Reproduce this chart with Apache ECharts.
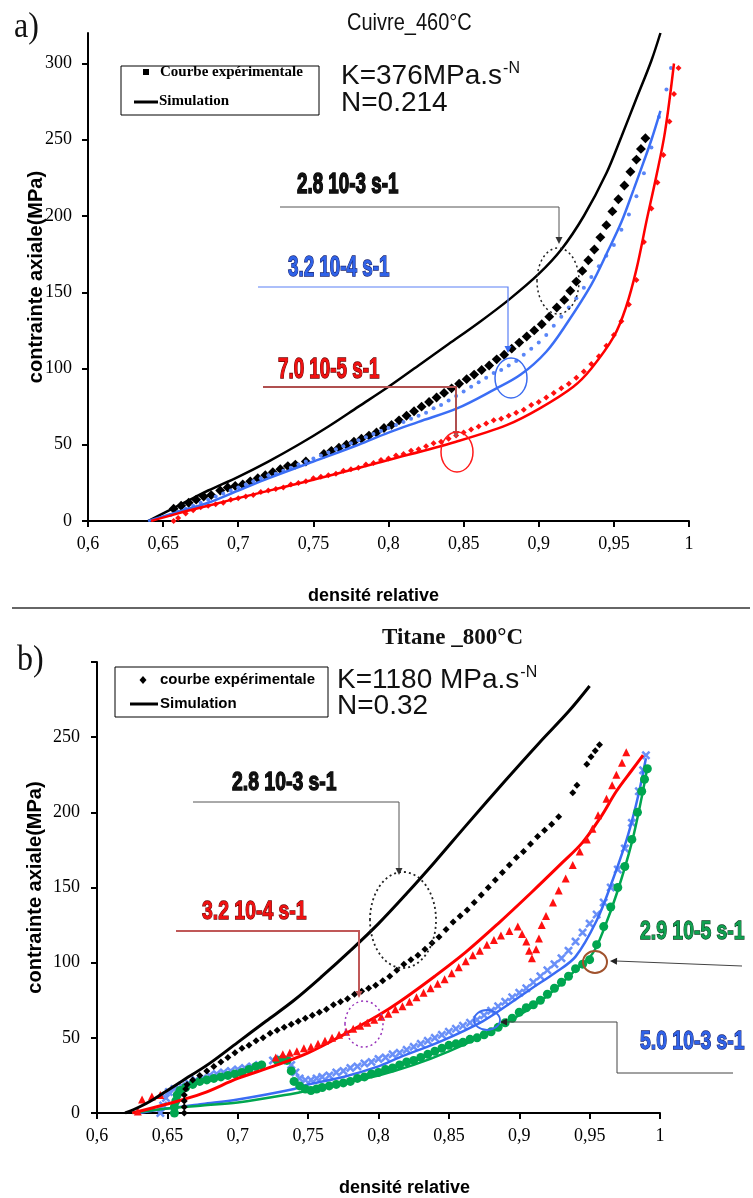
<!DOCTYPE html>
<html><head><meta charset="utf-8">
<script src="https://cdn.jsdelivr.net/npm/echarts@6/dist/echarts.min.js"></script>
<style>html,body{margin:0;padding:0;background:#fff}#c{width:753px;height:1198px}</style>
</head><body><div id="c"></div><script>
// ---------- tick values ----------
const xTicks = [0.6, 0.65, 0.7, 0.75, 0.8, 0.85, 0.9, 0.95, 1];
const yTicksCu = [0, 50, 100, 150, 200, 250, 300];
const yTicksTi = [0, 50, 100, 150, 200, 250, 300];

// ---------- a) Cuivre 460°C ----------
const cuBlackSim = [[0.640,0],[0.650,5],[0.660,10],[0.670,15],[0.680,20],[0.700,29],[0.720,39],[0.740,50],[0.760,62],[0.780,75],[0.800,88],[0.820,102],[0.840,116],[0.860,130],[0.880,145],[0.900,162],[0.915,178],[0.930,200],[0.945,228],[0.955,252],[0.965,277],[0.975,302],[0.981,320]];
const cuBlackExp = [[0.657,8],[0.662,10],[0.667,12],[0.672,14],[0.677,16],[0.682,17],[0.688,20],[0.693,22],[0.698,23],[0.703,24],[0.708,26],[0.713,28],[0.718,30],[0.723,32],[0.728,34],[0.733,36],[0.738,37],[0.745,39],[0.757,44],[0.762,46],[0.767,48],[0.772,50],[0.777,52],[0.782,54],[0.787,56],[0.792,58],[0.797,61],[0.802,63],[0.807,66],[0.812,69],[0.817,72],[0.822,75],[0.827,78],[0.832,81],[0.837,84],[0.842,87],[0.847,90],[0.852,93],[0.857,96],[0.862,99],[0.867,102],[0.872,106],[0.877,109],[0.882,113],[0.887,117],[0.892,121],[0.897,125],[0.902,129],[0.907,134],[0.912,140],[0.917,145],[0.921,151],[0.925,157],[0.929,164],[0.933,171],[0.937,178],[0.941,186],[0.945,194],[0.949,203],[0.953,211],[0.957,220],[0.961,229],[0.965,237],[0.968,244],[0.971,251]];
const cuBlueSim = [[0.640,0],[0.660,6],[0.680,12],[0.700,20],[0.720,28],[0.750,39],[0.780,50],[0.800,58],[0.820,65],[0.846,74],[0.870,86],[0.888,96],[0.905,111],[0.919,130],[0.935,155],[0.946,177],[0.955,196],[0.963,217],[0.970,236],[0.975,250],[0.981,269]];
const cuBlueExp = [[0.655,4],[0.660,6],[0.665,8],[0.670,10],[0.675,12],[0.680,14],[0.685,16],[0.690,18],[0.695,20],[0.700,22],[0.705,24],[0.710,26],[0.715,28],[0.720,30],[0.725,31],[0.730,33],[0.735,35],[0.740,37],[0.745,39],[0.750,41],[0.755,43],[0.760,45],[0.765,47],[0.770,49],[0.775,51],[0.780,53],[0.785,55],[0.790,57],[0.795,59],[0.800,61],[0.805,63],[0.810,65],[0.815,67],[0.820,69],[0.825,71],[0.830,74],[0.835,76],[0.840,79],[0.845,82],[0.850,85],[0.855,88],[0.860,91],[0.865,94],[0.870,97],[0.875,99],[0.880,102],[0.885,105],[0.890,109],[0.895,113],[0.900,117],[0.905,122],[0.910,128],[0.915,134],[0.920,140],[0.925,146],[0.930,153],[0.935,160],[0.940,167],[0.945,174],[0.950,181],[0.955,191],[0.960,201],[0.965,213],[0.970,228],[0.975,245],[0.980,265],[0.985,283],[0.988,297]];
const cuRedSim = [[0.642,0],[0.660,5],[0.680,10],[0.700,15],[0.750,27],[0.800,40],[0.845,52],[0.879,63],[0.901,74],[0.923,88],[0.935,100],[0.950,121],[0.958,140],[0.965,165],[0.972,198],[0.978,225],[0.984,255],[0.990,300]];
const cuRedExp = [[0.657,0],[0.660,2],[0.665,5],[0.670,7],[0.675,9],[0.680,10],[0.685,11],[0.690,12],[0.695,14],[0.700,15],[0.705,16],[0.710,17],[0.715,19],[0.720,20],[0.725,21],[0.730,22],[0.735,24],[0.740,25],[0.745,26],[0.750,28],[0.755,29],[0.760,30],[0.765,31],[0.770,33],[0.775,34],[0.780,35],[0.785,37],[0.790,38],[0.795,40],[0.800,41],[0.805,43],[0.810,44],[0.815,46],[0.820,47],[0.825,49],[0.830,51],[0.835,52],[0.840,54],[0.845,56],[0.850,58],[0.855,60],[0.860,62],[0.865,64],[0.870,66],[0.875,67],[0.880,69],[0.885,71],[0.890,73],[0.895,76],[0.900,78],[0.905,81],[0.910,84],[0.915,87],[0.920,90],[0.925,94],[0.930,98],[0.935,103],[0.940,108],[0.945,115],[0.950,122],[0.955,131],[0.960,142],[0.965,158],[0.970,183],[0.975,205],[0.979,222],[0.983,240],[0.987,262],[0.990,280],[0.993,297]];

// ---------- b) Titane 800°C ----------
const tiBlackSim = [[0.620,0],[0.630,4],[0.640,9],[0.650,15],[0.660,21],[0.680,33],[0.700,47],[0.720,61],[0.740,75],[0.760,91],[0.780,108],[0.800,126],[0.820,146],[0.840,167],[0.862,191],[0.890,221],[0.914,246],[0.935,267],[0.950,284]];
const tiBlackExp = [[0.662,0],[0.662,4],[0.662,8],[0.662,12],[0.663,16],[0.664,19],[0.668,22],[0.673,25],[0.678,28],[0.683,31],[0.688,34],[0.693,37],[0.698,40],[0.703,43],[0.708,45],[0.713,48],[0.718,50],[0.723,53],[0.728,55],[0.733,57],[0.738,59],[0.743,61],[0.748,63],[0.753,65],[0.758,67],[0.763,69],[0.768,72],[0.773,74],[0.778,76],[0.783,79],[0.788,81],[0.793,83],[0.798,85],[0.803,88],[0.808,91],[0.813,95],[0.818,99],[0.823,102],[0.828,105],[0.833,109],[0.838,113],[0.843,117],[0.848,122],[0.853,127],[0.858,131],[0.863,135],[0.868,140],[0.873,145],[0.878,150],[0.883,155],[0.888,160],[0.893,165],[0.898,170],[0.903,174],[0.908,179],[0.913,184],[0.918,188],[0.923,192],[0.928,197],[0.938,213],[0.941,218],[0.948,232],[0.951,237],[0.954,241],[0.957,245]];
const tiRedSim = [[0.625,0],[0.650,6],[0.675,13],[0.700,23],[0.725,31],[0.750,40],[0.775,52],[0.800,65],[0.815,74],[0.840,91],[0.862,107],[0.885,126],[0.909,147],[0.930,166],[0.945,180],[0.958,197],[0.969,214],[0.980,228],[0.988,238]];
const tiRedExp = [[0.629,1],[0.632,9],[0.639,11],[0.645,12],[0.727,37],[0.732,39],[0.737,40],[0.742,41],[0.747,43],[0.752,44],[0.757,46],[0.762,48],[0.767,50],[0.772,52],[0.777,54],[0.782,56],[0.787,58],[0.792,60],[0.797,62],[0.802,64],[0.807,66],[0.812,69],[0.817,71],[0.822,74],[0.827,77],[0.832,80],[0.837,83],[0.842,86],[0.847,89],[0.852,93],[0.857,97],[0.862,101],[0.867,105],[0.872,108],[0.877,112],[0.882,115],[0.887,118],[0.893,121],[0.899,124],[0.902,119],[0.905,114],[0.907,108],[0.909,103],[0.912,109],[0.914,116],[0.916,125],[0.919,131],[0.924,140],[0.928,148],[0.933,156],[0.938,165],[0.943,174],[0.948,182],[0.952,189],[0.956,198],[0.962,209],[0.966,218],[0.969,225],[0.973,233],[0.976,240]];
const tiBlueSim = [[0.630,0],[0.650,3],[0.675,6],[0.700,9],[0.740,16],[0.750,19],[0.775,24],[0.800,31],[0.815,37],[0.845,48],[0.874,61],[0.892,72],[0.909,83],[0.925,93],[0.940,104],[0.955,128],[0.966,154],[0.975,178],[0.980,194],[0.985,213],[0.990,236]];
const tiBlueExp = [[0.645,0],[0.647,5],[0.649,10],[0.651,14],[0.655,16],[0.660,18],[0.665,20],[0.670,22],[0.675,23],[0.680,25],[0.685,26],[0.690,27],[0.695,28],[0.700,29],[0.705,30],[0.710,31],[0.715,32],[0.725,35],[0.730,36],[0.735,35],[0.738,32],[0.741,27],[0.744,23],[0.748,22],[0.752,22],[0.756,23],[0.760,24],[0.765,25],[0.770,27],[0.775,28],[0.780,30],[0.785,31],[0.790,33],[0.795,34],[0.800,36],[0.805,37],[0.810,39],[0.815,40],[0.820,42],[0.825,44],[0.830,46],[0.835,48],[0.840,50],[0.845,52],[0.850,54],[0.855,56],[0.860,58],[0.865,60],[0.870,62],[0.875,65],[0.880,68],[0.885,71],[0.890,74],[0.895,77],[0.900,80],[0.905,83],[0.910,87],[0.915,91],[0.920,95],[0.925,99],[0.930,103],[0.935,108],[0.940,114],[0.945,120],[0.950,126],[0.955,132],[0.960,140],[0.965,150],[0.970,162],[0.975,176],[0.980,193],[0.985,214],[0.988,228],[0.990,238]];
const tiGreenSim = [[0.625,0],[0.650,3],[0.675,5],[0.700,7],[0.740,13],[0.750,15],[0.775,20],[0.800,25],[0.825,32],[0.850,41],[0.875,52],[0.900,65],[0.920,78],[0.940,95],[0.952,106],[0.960,122],[0.970,148],[0.980,180],[0.987,210],[0.991,230]];
const tiGreenExp = [[0.655,0],[0.655,4],[0.656,8],[0.657,12],[0.659,15],[0.663,17],[0.668,19],[0.673,21],[0.678,22],[0.683,23],[0.688,24],[0.693,25],[0.698,26],[0.703,27],[0.708,29],[0.713,31],[0.717,32],[0.728,35],[0.732,36],[0.735,35],[0.738,28],[0.740,21],[0.744,18],[0.748,16],[0.752,15],[0.756,16],[0.760,17],[0.765,18],[0.770,19],[0.775,20],[0.780,21],[0.785,23],[0.790,24],[0.795,26],[0.800,27],[0.805,29],[0.810,30],[0.815,32],[0.820,34],[0.825,35],[0.830,37],[0.835,39],[0.840,41],[0.845,43],[0.850,45],[0.855,46],[0.860,47],[0.865,49],[0.870,50],[0.875,52],[0.880,54],[0.885,57],[0.890,60],[0.895,63],[0.900,67],[0.905,70],[0.910,72],[0.915,75],[0.920,79],[0.925,83],[0.930,87],[0.935,91],[0.940,96],[0.945,99],[0.950,102],[0.955,112],[0.960,124],[0.965,137],[0.970,150],[0.975,164],[0.980,182],[0.984,200],[0.987,214],[0.989,222],[0.991,229]];

// ---------- helpers for annotations (pixel placed) ----------
function txt(x, y, text, font, fill, o) {
  o = o || {};
  return { type: 'text', x: x, y: y, z: 100, scaleX: o.sx || 1, scaleY: o.sy || 1,
    style: { text: text, font: font, fill: fill, x: 0, y: 0,
      textAlign: o.align || 'left', textVerticalAlign: 'middle',
      stroke: o.stroke || null, lineWidth: o.lw || 0 } };
}
function kText(x, y, main, sup) {
  return { type: 'text', x: x, y: y, z: 100,
    style: { text: '{a|' + main + '}{b|' + sup + '}', x: 0, y: 0, textVerticalAlign: 'middle',
      rich: { a: { fontSize: 28, fontFamily: '"Liberation Sans", Arial, sans-serif', fill: '#111', lineHeight: 30 },
              b: { fontSize: 16, fontFamily: '"Liberation Sans", Arial, sans-serif', fill: '#111', verticalAlign: 'top', padding: [0, 0, 0, 1] } } } };
}
function pline(points, color, w, dash, z) {
  return { type: 'polyline', z: z || 90, shape: { points: points },
    style: { stroke: color, lineWidth: w, fill: null, lineDash: dash || null } };
}
function head(tip, from, color) {
  const dx = tip[0] - from[0], dy = tip[1] - from[1];
  const L = Math.hypot(dx, dy), ux = dx / L, uy = dy / L;
  const bx = tip[0] - ux * 7, by = tip[1] - uy * 7;
  return { type: 'polygon', z: 91, shape: { points: [tip, [bx - uy * 3.5, by + ux * 3.5], [bx + uy * 3.5, by - ux * 3.5]] },
    style: { fill: color } };
}
function ell(cx, cy, rx, ry, color, w, dash) {
  return { type: 'ellipse', z: 92, shape: { cx: cx, cy: cy, rx: rx, ry: ry },
    style: { stroke: color, fill: null, lineWidth: w, lineDash: dash || null } };
}

const labFont = 'bold 20px "Liberation Sans", Arial, sans-serif';
const crossPath = 'path://M2,0 L5,3 L8,0 L10,2 L7,5 L10,8 L8,10 L5,7 L2,10 L0,8 L3,5 L0,2 Z';

const graphics = [
  // a) panel
  txt(14, 28, 'a)', '32px "Liberation Serif", serif', '#111', { sy: 1.1 }),
  txt(347, 23, 'Cuivre_460°C', '20px "Liberation Sans", Arial, sans-serif', '#111', { sy: 1.2 }),
  { type: 'rect', z: 95, shape: { x: 121, y: 66, width: 198, height: 49 }, style: { stroke: '#000', fill: '#fff', lineWidth: 1 } },
  { type: 'rect', z: 96, shape: { x: 143, y: 69, width: 6, height: 6 }, style: { fill: '#000' } },
  txt(160, 72, 'Courbe expérimentale', 'bold 15px "Liberation Serif", serif', '#000'),
  pline([[134, 102], [158, 102]], '#000', 3, null, 97),
  txt(159, 101, 'Simulation', 'bold 15px "Liberation Serif", serif', '#000'),
  kText(341, 76, 'K=376MPa.s', '-N'),
  txt(341, 103, 'N=0.214', '28px "Liberation Sans", Arial, sans-serif', '#111'),

  txt(297, 185, '2.8 10-3 s-1', labFont, '#111', { sx: 0.94, sy: 1.5, stroke: '#000', lw: 1 }),
  pline([[280, 207], [559, 207], [559, 237]], '#555', 1),
  head([559, 244], [559, 207], '#333'),
  ell(558, 281, 21, 33, '#222', 1.5, [2, 3]),

  txt(288, 268, '3.2 10-4 s-1', labFont, '#2f62e8', { sx: 0.94, sy: 1.5, stroke: '#1a2470', lw: 1 }),
  pline([[258, 287], [508, 287], [508, 346]], '#5b80f5', 1.2),
  head([508, 353], [508, 287], '#3b6cf0'),
  ell(511, 378, 16, 20, '#3b6cf0', 1.5),

  txt(278, 370, '7.0 10-5 s-1', labFont, '#f01010', { sx: 0.94, sy: 1.5, stroke: '#6a0000', lw: 1 }),
  pline([[263, 387], [456, 387], [456, 431]], '#b05050', 2),
  head([456, 438], [456, 387], '#b05050'),
  ell(457, 452, 16, 20, '#ff1a1a', 1.5),

  // separator
  pline([[12, 608], [750, 608]], '#666', 2),

  // b) panel
  txt(17, 661, 'b)', '32px "Liberation Serif", serif', '#111', { sy: 1.1 }),
  txt(382, 638, 'Titane _800°C', 'bold 23px "Liberation Serif", serif', '#111'),
  { type: 'rect', z: 95, shape: { x: 115, y: 667, width: 213, height: 50 }, style: { stroke: '#000', fill: '#fff', lineWidth: 1 } },
  { type: 'polygon', z: 96, shape: { points: [[143, 676], [146.5, 680], [143, 684], [139.5, 680]] }, style: { fill: '#000' } },
  txt(160, 680, 'courbe expérimentale', 'bold 15px "Liberation Sans", Arial, sans-serif', '#000'),
  pline([[130, 704], [158, 704]], '#000', 3, null, 97),
  txt(160, 704, 'Simulation', 'bold 15px "Liberation Sans", Arial, sans-serif', '#000'),
  kText(337, 680, 'K=1180 MPa.s', '-N'),
  txt(337, 706, 'N=0.32', '28px "Liberation Sans", Arial, sans-serif', '#111'),

  txt(232, 783, '2.8 10-3 s-1', labFont, '#111', { sx: 0.97, sy: 1.3, stroke: '#000', lw: 1 }),
  pline([[193, 802], [399, 802], [399, 868]], '#555', 1),
  head([399, 875], [399, 802], '#333'),
  ell(403, 920, 33, 48, '#222', 1.8, [2, 3]),

  txt(202, 912, '3.2 10-4 s-1', labFont, '#f01010', { sx: 0.97, sy: 1.3, stroke: '#6a0000', lw: 1 }),
  pline([[176, 931], [359, 931], [359, 991]], '#c05858', 2),
  head([359, 998], [359, 931], '#c05858'),
  ell(364, 1024, 19, 23, '#9933bb', 1.5, [2, 3]),

  txt(640, 932, '2.9 10-5 s-1', labFont, '#10a050', { sx: 0.97, sy: 1.3, stroke: '#0a4020', lw: 1 }),
  pline([[742, 966], [616, 961]], '#444', 1),
  head([610, 961], [742, 966], '#222'),
  ell(595, 962, 12, 11, '#a0522d', 2),

  txt(640, 1042, '5.0 10-3 s-1', labFont, '#2f62e8', { sx: 0.97, sy: 1.3, stroke: '#1a2470', lw: 1 }),
  pline([[733, 1073], [617, 1073], [617, 1022], [506, 1022]], '#444', 1),
  head([500, 1022], [617, 1022], '#222'),
  ell(487, 1020, 13, 10, '#3b6cf0', 1.8)
];

const fmtX = v => String(+v.toFixed(2)).replace('.', ',');
const xAxisBase = (gi, gap, pad) => ({
  type: 'value', gridIndex: gi, min: 0.6, max: 1, interval: 0.05,
  axisLine: { lineStyle: { color: '#000', width: 2 } },
  splitLine: { show: false },
  axisLabel: { fontFamily: '"Liberation Serif", serif', fontSize: 18, color: '#000', margin: 14, formatter: fmtX, customValues: xTicks },
  axisTick: { inside: false, length: 6, lineStyle: { color: '#000', width: 2 }, customValues: xTicks },
  name: 'densité relative', nameLocation: 'middle', nameGap: gap,
  nameTextStyle: { fontFamily: '"Liberation Sans", Arial, sans-serif', fontWeight: 'bold', fontSize: 18, color: '#000', padding: pad }
});
const yAxisBase = (gi, max, ticks, labels, gap, margin) => ({
  type: 'value', gridIndex: gi, min: 0, max: max, interval: 50,
  axisLine: { lineStyle: { color: '#000', width: 2 } },
  splitLine: { show: false },
  axisLabel: { fontFamily: '"Liberation Serif", serif', fontSize: 18, color: '#000', margin: margin, customValues: labels },
  axisTick: { inside: false, length: 6, lineStyle: { color: '#000', width: 2 }, customValues: ticks },
  name: 'contrainte axiale(MPa)', nameLocation: 'middle', nameRotate: 90, nameGap: gap, nameMoveOverlap: false,
  nameTextStyle: { fontFamily: '"Liberation Sans", Arial, sans-serif', fontWeight: 'bold', fontSize: 20, color: '#000' }
});

const line = (data, color, w, xi, z) => ({ type: 'line', xAxisIndex: xi, yAxisIndex: xi, data: data, smooth: 0.35,
  showSymbol: false, symbol: 'none', lineStyle: { color: color, width: w }, itemStyle: { color: color }, z: z || 3, silent: true });
const dots = (data, color, symbol, size, xi, z, rot) => ({ type: 'scatter', xAxisIndex: xi, yAxisIndex: xi, data: data,
  symbol: symbol, symbolSize: size, symbolRotate: rot || 0, itemStyle: { color: color, opacity: 1 }, z: z || 2, silent: true });

const chart = echarts.init(document.getElementById('c'), null, { renderer: 'canvas' });
chart.setOption({
  animation: false,
  backgroundColor: '#fff',
  grid: [
    { left: 88, top: 33, width: 601, height: 488 },
    { left: 97, top: 662, width: 563, height: 452 }
  ],
  xAxis: [xAxisBase(0, 66, [0, 30, 0, 0]), xAxisBase(1, 66, [0, 0, 0, 52])],
  yAxis: [
    yAxisBase(0, 320, yTicksCu, yTicksCu, 42, 16),
    yAxisBase(1, 300, yTicksTi, yTicksTi.slice(0, 6), 52, 17)
  ],
  series: [
    dots(cuBlackExp, '#000', 'rect', 7, 0, 2, 45),
    line(cuBlackSim, '#000', 2.5, 0, 3),
    dots(cuBlueExp, '#5a86f7', 'circle', 4, 0, 2),
    line(cuBlueSim, '#3b6ef5', 2.5, 0, 3),
    dots(cuRedExp, '#ff1010', 'diamond', 6, 0, 2),
    line(cuRedSim, '#ff0000', 2.5, 0, 3),

    dots(tiBlueExp, '#6a90f8', crossPath, 9, 1, 2),
    line(tiBlueSim, '#3a6cf4', 2.5, 1, 3),
    dots(tiGreenExp, '#00a650', 'circle', 9, 1, 4),
    line(tiGreenSim, '#00a650', 2.5, 1, 4),
    dots(tiRedExp, '#ff1010', 'triangle', 8, 1, 5),
    line(tiRedSim, '#ff0000', 3, 1, 5),
    dots(tiBlackExp, '#000', 'diamond', 7, 1, 5),
    line(tiBlackSim, '#000', 3, 1, 6)
  ],
  graphic: graphics
});
</script></body></html>
